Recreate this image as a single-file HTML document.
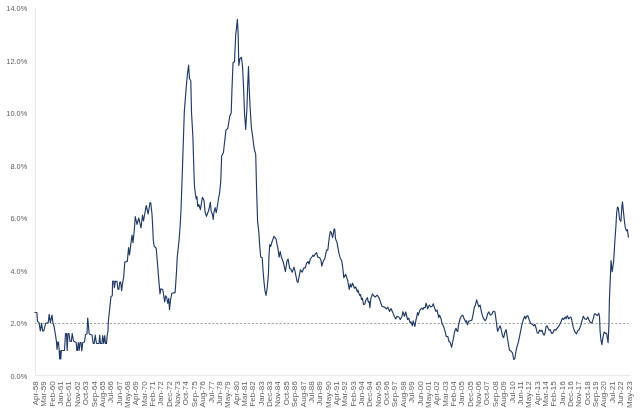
<!DOCTYPE html>
<html><head><meta charset="utf-8"><title>Core CPI</title>
<style>
html,body{margin:0;padding:0;background:#fff;}
body{width:640px;height:414px;overflow:hidden;}
svg{display:block;font-family:"Liberation Sans",sans-serif;}
.yl text{font-size:7.4px;fill:#5e5e5e;}
.xl text{font-size:7.7px;fill:#5e5e5e;}
</style></head><body>
<svg width="640" height="414" viewBox="0 0 640 414">
<rect width="640" height="414" fill="#fff"/>
<line x1="35.5" y1="8" x2="35.5" y2="375.5" stroke="#e9e9e9" stroke-width="1.2"/>
<line x1="35.5" y1="375.5" x2="630.6" y2="375.5" stroke="#e9e9e9" stroke-width="1.2"/>
<line x1="35.2" y1="323.5" x2="628.6" y2="323.5" stroke="#888d96" stroke-width="0.8" stroke-dasharray="2.15 1.8" stroke-dashoffset="0.6"/>
<g class="yl">
<text x="27.2" y="378.6" text-anchor="end" textLength="16.8" lengthAdjust="spacingAndGlyphs">0.0%</text>
<text x="27.2" y="326.1" text-anchor="end" textLength="16.8" lengthAdjust="spacingAndGlyphs">2.0%</text>
<text x="27.2" y="273.6" text-anchor="end" textLength="16.8" lengthAdjust="spacingAndGlyphs">4.0%</text>
<text x="27.2" y="221.2" text-anchor="end" textLength="16.8" lengthAdjust="spacingAndGlyphs">6.0%</text>
<text x="27.2" y="168.7" text-anchor="end" textLength="16.8" lengthAdjust="spacingAndGlyphs">8.0%</text>
<text x="27.2" y="116.2" text-anchor="end" textLength="20.9" lengthAdjust="spacingAndGlyphs">10.0%</text>
<text x="27.2" y="63.7" text-anchor="end" textLength="20.9" lengthAdjust="spacingAndGlyphs">12.0%</text>
<text x="27.2" y="11.2" text-anchor="end" textLength="20.9" lengthAdjust="spacingAndGlyphs">14.0%</text>
</g>
<g class="xl">
<text transform="translate(38.00,381.2) rotate(-90) scale(1.045,0.93)" text-anchor="end">Apr-58</text>
<text transform="translate(46.36,381.2) rotate(-90) scale(1.045,0.93)" text-anchor="end">Mar-59</text>
<text transform="translate(54.72,381.2) rotate(-90) scale(1.045,0.93)" text-anchor="end">Feb-60</text>
<text transform="translate(63.08,381.2) rotate(-90) scale(1.045,0.93)" text-anchor="end">Jan-61</text>
<text transform="translate(71.44,381.2) rotate(-90) scale(1.045,0.93)" text-anchor="end">Dec-61</text>
<text transform="translate(79.80,381.2) rotate(-90) scale(1.045,0.93)" text-anchor="end">Nov-62</text>
<text transform="translate(88.16,381.2) rotate(-90) scale(1.045,0.93)" text-anchor="end">Oct-63</text>
<text transform="translate(96.52,381.2) rotate(-90) scale(1.045,0.93)" text-anchor="end">Sep-64</text>
<text transform="translate(104.88,381.2) rotate(-90) scale(1.045,0.93)" text-anchor="end">Aug-65</text>
<text transform="translate(113.24,381.2) rotate(-90) scale(1.045,0.93)" text-anchor="end">Jul-66</text>
<text transform="translate(121.60,381.2) rotate(-90) scale(1.045,0.93)" text-anchor="end">Jun-67</text>
<text transform="translate(129.96,381.2) rotate(-90) scale(1.045,0.93)" text-anchor="end">May-68</text>
<text transform="translate(138.32,381.2) rotate(-90) scale(1.045,0.93)" text-anchor="end">Apr-69</text>
<text transform="translate(146.68,381.2) rotate(-90) scale(1.045,0.93)" text-anchor="end">Mar-70</text>
<text transform="translate(155.04,381.2) rotate(-90) scale(1.045,0.93)" text-anchor="end">Feb-71</text>
<text transform="translate(163.40,381.2) rotate(-90) scale(1.045,0.93)" text-anchor="end">Jan-72</text>
<text transform="translate(171.76,381.2) rotate(-90) scale(1.045,0.93)" text-anchor="end">Dec-72</text>
<text transform="translate(180.12,381.2) rotate(-90) scale(1.045,0.93)" text-anchor="end">Nov-73</text>
<text transform="translate(188.48,381.2) rotate(-90) scale(1.045,0.93)" text-anchor="end">Oct-74</text>
<text transform="translate(196.84,381.2) rotate(-90) scale(1.045,0.93)" text-anchor="end">Sep-75</text>
<text transform="translate(205.20,381.2) rotate(-90) scale(1.045,0.93)" text-anchor="end">Aug-76</text>
<text transform="translate(213.56,381.2) rotate(-90) scale(1.045,0.93)" text-anchor="end">Jul-77</text>
<text transform="translate(221.92,381.2) rotate(-90) scale(1.045,0.93)" text-anchor="end">Jun-78</text>
<text transform="translate(230.28,381.2) rotate(-90) scale(1.045,0.93)" text-anchor="end">May-79</text>
<text transform="translate(238.64,381.2) rotate(-90) scale(1.045,0.93)" text-anchor="end">Apr-80</text>
<text transform="translate(247.00,381.2) rotate(-90) scale(1.045,0.93)" text-anchor="end">Mar-81</text>
<text transform="translate(255.36,381.2) rotate(-90) scale(1.045,0.93)" text-anchor="end">Feb-82</text>
<text transform="translate(263.72,381.2) rotate(-90) scale(1.045,0.93)" text-anchor="end">Jan-83</text>
<text transform="translate(272.08,381.2) rotate(-90) scale(1.045,0.93)" text-anchor="end">Dec-83</text>
<text transform="translate(280.44,381.2) rotate(-90) scale(1.045,0.93)" text-anchor="end">Nov-84</text>
<text transform="translate(288.80,381.2) rotate(-90) scale(1.045,0.93)" text-anchor="end">Oct-85</text>
<text transform="translate(297.16,381.2) rotate(-90) scale(1.045,0.93)" text-anchor="end">Sep-86</text>
<text transform="translate(305.52,381.2) rotate(-90) scale(1.045,0.93)" text-anchor="end">Aug-87</text>
<text transform="translate(313.88,381.2) rotate(-90) scale(1.045,0.93)" text-anchor="end">Jul-88</text>
<text transform="translate(322.24,381.2) rotate(-90) scale(1.045,0.93)" text-anchor="end">Jun-89</text>
<text transform="translate(330.60,381.2) rotate(-90) scale(1.045,0.93)" text-anchor="end">May-90</text>
<text transform="translate(338.96,381.2) rotate(-90) scale(1.045,0.93)" text-anchor="end">Apr-91</text>
<text transform="translate(347.32,381.2) rotate(-90) scale(1.045,0.93)" text-anchor="end">Mar-92</text>
<text transform="translate(355.68,381.2) rotate(-90) scale(1.045,0.93)" text-anchor="end">Feb-93</text>
<text transform="translate(364.04,381.2) rotate(-90) scale(1.045,0.93)" text-anchor="end">Jan-94</text>
<text transform="translate(372.40,381.2) rotate(-90) scale(1.045,0.93)" text-anchor="end">Dec-94</text>
<text transform="translate(380.76,381.2) rotate(-90) scale(1.045,0.93)" text-anchor="end">Nov-95</text>
<text transform="translate(389.12,381.2) rotate(-90) scale(1.045,0.93)" text-anchor="end">Oct-96</text>
<text transform="translate(397.48,381.2) rotate(-90) scale(1.045,0.93)" text-anchor="end">Sep-97</text>
<text transform="translate(405.84,381.2) rotate(-90) scale(1.045,0.93)" text-anchor="end">Aug-98</text>
<text transform="translate(414.20,381.2) rotate(-90) scale(1.045,0.93)" text-anchor="end">Jul-99</text>
<text transform="translate(422.56,381.2) rotate(-90) scale(1.045,0.93)" text-anchor="end">Jun-00</text>
<text transform="translate(430.92,381.2) rotate(-90) scale(1.045,0.93)" text-anchor="end">May-01</text>
<text transform="translate(439.28,381.2) rotate(-90) scale(1.045,0.93)" text-anchor="end">Apr-02</text>
<text transform="translate(447.64,381.2) rotate(-90) scale(1.045,0.93)" text-anchor="end">Mar-03</text>
<text transform="translate(456.00,381.2) rotate(-90) scale(1.045,0.93)" text-anchor="end">Feb-04</text>
<text transform="translate(464.36,381.2) rotate(-90) scale(1.045,0.93)" text-anchor="end">Jan-05</text>
<text transform="translate(472.72,381.2) rotate(-90) scale(1.045,0.93)" text-anchor="end">Dec-05</text>
<text transform="translate(481.08,381.2) rotate(-90) scale(1.045,0.93)" text-anchor="end">Nov-06</text>
<text transform="translate(489.44,381.2) rotate(-90) scale(1.045,0.93)" text-anchor="end">Oct-07</text>
<text transform="translate(497.80,381.2) rotate(-90) scale(1.045,0.93)" text-anchor="end">Sep-08</text>
<text transform="translate(506.16,381.2) rotate(-90) scale(1.045,0.93)" text-anchor="end">Aug-09</text>
<text transform="translate(514.52,381.2) rotate(-90) scale(1.045,0.93)" text-anchor="end">Jul-10</text>
<text transform="translate(522.88,381.2) rotate(-90) scale(1.045,0.93)" text-anchor="end">Jun-11</text>
<text transform="translate(531.24,381.2) rotate(-90) scale(1.045,0.93)" text-anchor="end">May-12</text>
<text transform="translate(539.60,381.2) rotate(-90) scale(1.045,0.93)" text-anchor="end">Apr-13</text>
<text transform="translate(547.96,381.2) rotate(-90) scale(1.045,0.93)" text-anchor="end">Mar-14</text>
<text transform="translate(556.32,381.2) rotate(-90) scale(1.045,0.93)" text-anchor="end">Feb-15</text>
<text transform="translate(564.68,381.2) rotate(-90) scale(1.045,0.93)" text-anchor="end">Jan-16</text>
<text transform="translate(573.04,381.2) rotate(-90) scale(1.045,0.93)" text-anchor="end">Dec-16</text>
<text transform="translate(581.40,381.2) rotate(-90) scale(1.045,0.93)" text-anchor="end">Nov-17</text>
<text transform="translate(589.76,381.2) rotate(-90) scale(1.045,0.93)" text-anchor="end">Oct-18</text>
<text transform="translate(598.12,381.2) rotate(-90) scale(1.045,0.93)" text-anchor="end">Sep-19</text>
<text transform="translate(606.48,381.2) rotate(-90) scale(1.045,0.93)" text-anchor="end">Aug-20</text>
<text transform="translate(614.84,381.2) rotate(-90) scale(1.045,0.93)" text-anchor="end">Jul-21</text>
<text transform="translate(623.20,381.2) rotate(-90) scale(1.045,0.93)" text-anchor="end">Jun-22</text>
<text transform="translate(631.56,381.2) rotate(-90) scale(1.045,0.93)" text-anchor="end">May-23</text>
</g>
<polyline fill="none" stroke="#213a64" stroke-width="1.15" stroke-linejoin="round" stroke-linecap="round" points="35.0,312.5 36.9,312.5 37.5,321.3 39.0,322.6 40.3,330.8 41.6,323.2 42.6,330.8 43.8,330.8 45.7,323.2 48.2,322.6 49.2,314.4 50.4,322.6 52.0,315.0 53.0,323.2 53.9,325.7 55.5,335.0 56.5,342.0 57.0,349.5 57.8,342.0 58.5,342.0 59.2,351.0 59.7,359.0 60.3,351.0 60.8,359.0 61.3,350.5 64.5,350.5 65.5,333.5 66.5,333.5 67.2,350.5 68.0,333.5 69.0,333.5 70.0,341.5 71.3,341.5 72.2,333.5 73.5,341.0 76.2,342.5 76.8,350.5 77.5,350.5 78.3,342.5 79.2,350.5 80.0,342.5 81.0,342.5 81.8,351.0 82.7,342.5 84.5,342.0 85.5,334.5 87.0,334.0 87.7,318.0 88.5,326.0 89.2,334.0 92.0,335.0 93.2,343.5 94.2,343.5 95.2,335.0 96.5,343.5 99.0,343.5 99.7,335.0 100.5,343.5 102.0,343.5 102.7,335.5 103.7,343.5 104.7,335.5 105.5,343.5 106.5,343.5 107.2,335.0 108.0,331.0 108.3,322.0 109.4,311.5 111.0,296.4 112.3,295.8 112.6,281.3 113.8,281.0 114.4,287.6 115.3,281.3 117.0,281.3 117.8,288.8 118.8,289.5 119.8,282.0 120.7,282.0 121.6,290.7 122.6,283.2 123.7,277.0 124.8,262.0 127.3,261.4 128.6,247.6 129.5,255.0 132.0,235.0 133.0,242.6 134.2,231.0 135.3,216.5 137.0,224.5 138.8,218.0 141.0,228.0 142.5,215.0 143.5,221.0 146.2,205.5 148.2,214.0 150.0,202.5 150.8,203.0 152.0,214.0 152.6,225.0 153.3,240.0 154.2,246.4 156.2,248.2 158.0,270.0 159.0,282.6 160.0,293.9 160.9,288.8 162.8,289.5 164.7,302.0 165.6,295.8 166.6,297.0 167.8,303.3 168.8,298.3 169.5,309.6 170.6,299.5 171.9,293.2 175.1,292.6 175.8,282.6 176.6,270.0 177.3,256.4 179.1,240.0 180.2,225.0 181.0,210.0 182.6,164.0 184.3,112.0 186.4,85.1 187.6,72.6 188.6,65.0 189.5,78.8 190.8,80.7 191.5,112.0 192.9,137.1 193.7,164.0 194.4,185.0 195.2,192.5 196.2,199.0 196.9,196.5 197.8,206.5 198.8,204.5 200.4,209.7 202.4,197.4 204.0,200.2 205.1,212.2 206.5,216.3 208.1,212.0 209.0,209.0 210.3,202.4 211.2,211.5 212.5,214.4 213.2,219.5 214.0,212.0 215.1,207.6 216.2,212.7 217.4,206.0 218.7,197.3 219.5,194.0 220.7,182.0 221.4,164.0 221.6,156.0 223.4,152.8 225.9,130.2 227.8,128.3 229.8,116.0 231.2,113.0 231.9,91.5 233.0,63.0 234.5,61.5 235.0,50.0 235.7,35.1 237.4,19.4 238.2,35.1 238.8,65.5 240.0,58.5 241.4,57.3 242.5,66.0 243.6,88.0 244.5,113.0 245.7,129.5 247.0,106.8 247.6,88.0 248.5,66.5 249.2,88.0 250.1,106.8 251.4,128.2 252.6,136.0 253.6,144.3 254.2,148.7 255.7,154.3 256.6,190.0 257.6,221.4 258.8,232.0 259.8,247.0 260.7,257.0 262.2,257.8 263.0,270.0 264.0,282.0 265.0,291.0 266.0,295.5 267.2,288.0 268.5,273.0 268.9,257.0 269.8,244.6 270.7,246.4 272.0,242.0 273.9,236.4 276.0,238.9 277.9,248.3 279.1,257.1 280.2,251.5 281.4,257.1 283.3,262.2 285.4,271.6 287.1,260.3 288.1,259.0 289.6,268.4 290.8,269.1 292.1,272.2 294.0,267.2 295.2,272.2 297.1,281.6 298.0,282.4 299.2,276.0 300.5,269.7 302.1,272.2 304.0,267.8 305.3,267.8 306.5,263.4 308.0,261.5 309.0,264.0 310.3,259.0 312.2,256.5 312.8,255.2 313.8,256.5 315.3,254.0 316.6,252.7 317.8,257.1 319.7,257.8 321.0,260.3 321.8,266.2 322.9,262.2 325.0,258.0 326.5,250.0 327.8,250.2 329.3,237.0 330.4,231.3 331.3,232.6 332.6,237.6 334.2,228.8 334.8,229.4 335.5,238.8 337.0,242.6 338.8,252.7 340.1,257.7 341.6,260.2 342.8,268.0 343.8,277.6 345.7,274.4 347.6,280.1 349.2,289.5 350.3,283.8 351.3,287.0 352.6,283.2 354.5,288.2 355.7,287.0 357.4,292.0 358.0,290.1 359.5,295.2 360.5,294.6 361.6,299.5 362.4,298.3 363.6,304.6 364.9,303.9 365.8,300.2 367.4,297.7 368.3,302.1 369.2,301.5 369.9,307.7 370.8,298.9 372.4,293.9 373.7,295.8 375.2,297.0 377.1,295.2 379.0,297.7 380.9,303.3 382.1,306.5 384.6,307.1 386.5,309.0 387.8,307.1 389.6,311.5 390.9,308.5 392.8,312.6 394.5,316.7 395.7,318.9 396.9,316.4 398.8,317.0 400.3,319.5 401.9,316.4 403.0,311.7 404.4,316.4 405.7,312.0 407.6,319.5 408.8,318.2 410.1,322.6 411.1,322.0 412.4,325.8 413.2,320.8 414.9,326.4 415.8,320.8 417.6,312.6 418.3,315.1 419.9,310.1 421.7,308.2 422.9,309.4 423.9,307.6 425.2,307.6 426.1,303.2 427.7,308.8 429.2,305.1 430.8,306.9 432.1,306.3 433.3,303.8 434.6,308.2 435.9,311.3 437.1,310.1 438.7,317.6 439.6,315.1 440.9,318.2 442.1,323.9 443.4,325.8 445.3,332.1 446.3,336.5 447.8,336.5 449.0,341.5 450.3,342.7 451.6,347.3 452.8,341.5 454.7,331.4 456.0,328.3 456.8,330.8 457.8,331.4 458.5,325.2 460.3,318.0 461.5,316.0 462.8,315.1 464.0,318.6 465.7,322.0 466.5,320.7 467.5,324.8 468.5,321.4 470.1,320.7 471.9,320.1 473.2,313.8 474.4,306.9 475.3,305.7 476.6,299.8 477.6,303.1 478.8,306.9 480.1,305.0 481.6,312.6 483.2,318.2 485.1,320.7 486.4,318.8 487.6,313.8 488.9,311.9 490.2,315.1 491.7,314.4 493.3,311.3 494.9,311.9 496.1,320.1 497.1,328.3 497.7,331.4 498.9,328.3 500.2,325.8 501.5,330.8 502.7,336.4 503.7,337.7 504.6,333.3 506.1,329.5 507.1,336.2 508.4,344.0 509.4,350.0 511.2,351.3 512.5,353.0 513.7,359.5 514.8,358.5 516.2,350.0 517.2,345.9 518.4,342.1 520.3,332.7 521.8,325.1 523.4,319.5 524.7,316.3 525.6,318.8 526.6,316.3 527.8,315.7 529.1,319.5 530.6,323.5 532.3,324.2 533.7,325.8 535.0,324.5 536.2,328.5 537.2,333.0 538.4,333.2 539.5,330.0 541.1,331.4 541.9,330.2 543.2,333.9 544.1,335.2 545.1,332.7 546.1,326.4 547.0,325.8 548.2,328.3 549.1,330.2 550.1,329.5 551.6,333.3 552.6,333.3 554.5,329.5 555.8,330.2 557.6,327.6 559.5,325.1 561.4,320.7 562.4,318.2 563.7,319.5 565.2,317.0 566.1,318.8 567.3,315.7 568.7,318.8 570.2,317.0 571.2,317.6 572.1,322.0 573.3,327.6 574.6,331.4 576.5,333.9 577.7,330.8 579.2,329.5 580.9,325.1 582.1,320.1 583.4,316.3 584.6,318.8 586.3,319.5 587.8,317.0 589.0,320.1 590.6,322.6 591.9,323.2 593.2,318.8 594.4,313.8 596.0,314.4 597.2,315.7 598.8,313.2 599.5,316.3 600.1,331.4 601.0,340.2 601.9,344.6 602.9,337.7 604.1,332.0 605.4,333.3 606.6,333.3 608.1,342.7 608.9,325.1 609.4,300.0 610.5,274.0 611.0,260.5 612.2,271.7 613.7,260.5 614.8,242.0 615.9,226.4 616.7,212.6 617.5,207.0 618.4,208.2 619.6,219.5 620.9,221.4 621.9,206.3 622.5,201.9 623.4,211.4 624.6,222.7 625.3,227.7 626.5,230.8 627.4,229.6 628.4,237.1"/>
</svg>
</body></html>
